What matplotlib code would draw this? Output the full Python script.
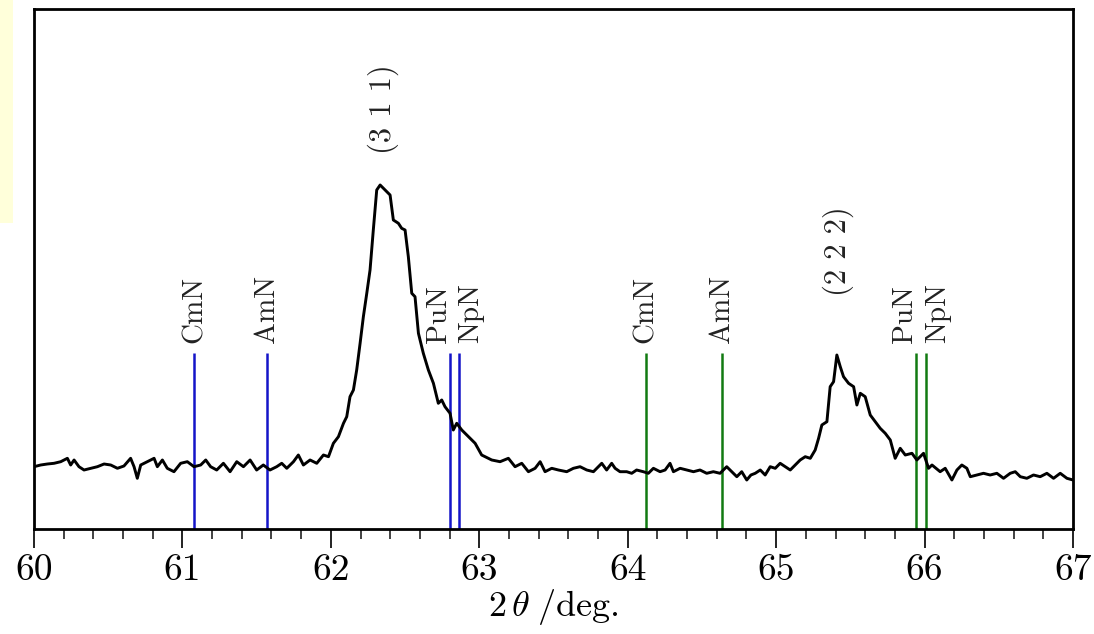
import matplotlib
matplotlib.use("Agg")
import matplotlib.pyplot as plt
from matplotlib.patches import Rectangle
from matplotlib.ticker import MultipleLocator, FuncFormatter

plt.rcParams["mathtext.fontset"] = "cm"
plt.rcParams["font.family"] = "cmr10"
plt.rcParams["axes.formatter.use_mathtext"] = True

# XRD pattern: 2theta (deg) and intensity (arb. units)
two_theta = [
    60.000, 60.045, 60.090, 60.135, 60.180, 60.225, 60.247, 60.270, 60.303, 60.337,
    60.382, 60.427, 60.472, 60.517, 60.562, 60.606, 60.651, 60.674, 60.696, 60.719,
    60.764, 60.809, 60.831, 60.865, 60.898, 60.943, 60.988, 61.033, 61.078, 61.123,
    61.157, 61.190, 61.231, 61.276, 61.321, 61.366, 61.411, 61.456, 61.500, 61.545,
    61.590, 61.635, 61.669, 61.703, 61.748, 61.781, 61.815, 61.860, 61.905, 61.950,
    61.984, 62.017, 62.051, 62.085, 62.107, 62.129, 62.152, 62.174, 62.197, 62.219,
    62.242, 62.264, 62.286, 62.309, 62.332, 62.365, 62.399, 62.421, 62.455, 62.477,
    62.500, 62.522, 62.545, 62.567, 62.590, 62.623, 62.657, 62.691, 62.702, 62.724,
    62.747, 62.769, 62.803, 62.825, 62.848, 62.882, 62.927, 62.972, 63.016, 63.084,
    63.140, 63.196, 63.241, 63.286, 63.331, 63.376, 63.410, 63.443, 63.488, 63.533,
    63.589, 63.634, 63.679, 63.724, 63.769, 63.802, 63.825, 63.858, 63.892, 63.915,
    63.948, 63.993, 64.027, 64.060, 64.105, 64.139, 64.173, 64.218, 64.252, 64.285,
    64.308, 64.353, 64.398, 64.443, 64.487, 64.532, 64.577, 64.622, 64.667, 64.701,
    64.735, 64.768, 64.802, 64.830, 64.859, 64.893, 64.926, 64.960, 64.994, 65.027,
    65.061, 65.095, 65.128, 65.162, 65.196, 65.230, 65.263, 65.286, 65.308, 65.342,
    65.364, 65.387, 65.409, 65.432, 65.454, 65.488, 65.522, 65.544, 65.567, 65.600,
    65.634, 65.668, 65.701, 65.735, 65.769, 65.802, 65.836, 65.870, 65.915, 65.948,
    65.993, 66.027, 66.050, 66.105, 66.139, 66.184, 66.218, 66.251, 66.285, 66.308,
    66.352, 66.397, 66.442, 66.487, 66.532, 66.577, 66.611, 66.645, 66.689, 66.734,
    66.779, 66.824, 66.869, 66.914, 66.959, 67.000,
]
intensity = [
    62.3, 64.0, 65.0, 65.7, 67.3, 70.7, 64.0, 69.0, 62.3, 59.0,
    60.7, 62.3, 65.0, 64.0, 60.7, 63.0, 70.7, 62.3, 50.7, 64.0,
    67.3, 70.7, 62.3, 69.0, 60.7, 57.3, 65.7, 67.3, 62.3, 64.0,
    69.0, 62.3, 59.0, 65.7, 57.3, 67.3, 62.3, 69.0, 59.0, 64.0,
    59.0, 62.3, 65.7, 60.7, 67.3, 74.0, 64.0, 69.0, 65.7, 74.0,
    72.3, 85.7, 92.3, 105.7, 112.3, 132.3, 139.0, 159.0, 185.7, 212.3,
    235.7, 259.0, 299.0, 339.0, 344.0, 339.0, 334.0, 309.0, 305.7, 300.7,
    299.0, 272.3, 235.7, 232.3, 195.7, 175.7, 159.0, 145.7, 139.0, 125.7,
    129.0, 122.3, 115.7, 99.0, 105.7, 99.0, 92.3, 85.7, 74.0, 69.0,
    67.3, 70.7, 62.3, 65.7, 57.3, 60.7, 67.3, 57.3, 60.7, 59.0,
    57.3, 60.7, 62.3, 59.0, 57.3, 62.3, 65.7, 59.0, 65.7, 60.7,
    57.3, 57.3, 55.7, 59.0, 57.3, 55.7, 60.7, 57.3, 59.0, 65.7,
    57.3, 60.7, 59.0, 57.3, 59.0, 55.7, 57.3, 55.7, 62.3, 57.3,
    52.3, 57.3, 49.0, 54.0, 55.7, 59.0, 54.0, 62.3, 60.7, 65.7,
    62.3, 59.0, 64.0, 69.0, 72.3, 70.7, 79.0, 90.7, 104.0, 107.3,
    142.3, 147.3, 174.0, 162.3, 152.3, 145.7, 142.3, 124.0, 135.7, 132.3,
    114.0, 107.3, 100.7, 95.7, 89.0, 70.7, 80.7, 74.0, 75.7, 69.0,
    75.7, 60.7, 64.0, 57.3, 60.7, 49.0, 59.0, 64.0, 60.7, 52.3,
    54.0, 55.7, 54.0, 55.7, 50.7, 55.7, 57.3, 52.3, 50.7, 54.0,
    52.3, 55.7, 50.7, 55.7, 50.7, 49.0,
]

# Reference peak positions of the actinide nitrides
ref_names = ["CmN", "AmN", "PuN", "NpN"]
ref_311 = [61.08, 61.57, 62.80, 62.865]
ref_222 = [64.12, 64.635, 65.94, 66.01]
ref_height = 176
label_shift = [0.0, 0.0, -0.07, 0.08]

peak_labels = ["(3 1 1)", "(2 2 2)"]
peak_pos = [62.35, 65.42]
peak_label_y = [420, 278]

fig = plt.figure(figsize=(10.94, 6.34), dpi=100)
fig.patches.append(Rectangle((0, 1 - 223 / 634), 13 / 1094, 223 / 634,
                             transform=fig.transFigure, facecolor="#ffffda",
                             edgecolor="none", zorder=0))
ax = fig.add_axes([34 / 1094, 105 / 634, 1039 / 1094, 520 / 634])

for xs, col in ((ref_311, "#1414c8"), (ref_222, "#117a11")):
    for name, xv, dx in zip(ref_names, xs, label_shift):
        ax.vlines(xv, 0, ref_height, color=col, lw=1.8, zorder=1)
        ax.text(xv + dx, ref_height + 10, name, rotation=90, ha="center",
                va="bottom", fontsize=21, color="#222222")

ax.plot(two_theta, intensity, color="black", lw=2.1, zorder=2)

for lab, xv, yv in zip(peak_labels, peak_pos, peak_label_y):
    ax.text(xv, yv, lab, rotation=90, ha="center", va="center",
            fontsize=22, color="#222222")

ax.set_xlim(60, 67)
ax.set_ylim(0, 520)
ax.set_yticks([])
ax.xaxis.set_major_locator(MultipleLocator(1))
ax.xaxis.set_minor_locator(MultipleLocator(0.2))
ax.xaxis.set_major_formatter(FuncFormatter(lambda v, p: f"{v:.0f}"))
ax.tick_params(axis="x", which="major", direction="out", length=13.5,
               width=1.4, labelsize=27, pad=4, color="#222222")
ax.tick_params(axis="x", which="minor", direction="out", length=7,
               width=1.2, color="#222222")
for sp in ax.spines.values():
    sp.set_linewidth(2.0)
ax.set_xlabel(r"$2\,\theta\;/\mathrm{deg.}$", fontsize=26, labelpad=0)

fig.savefig("out.png", dpi=100)
